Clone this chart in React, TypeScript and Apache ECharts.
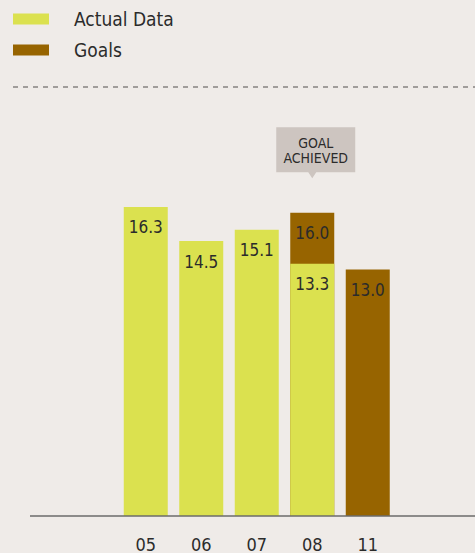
import React, { useEffect, useRef } from "react";
import * as echarts from "echarts";

const categories = ["05", "06", "07", "08", "11"];
const actualData: (number | null)[] = [16.3, 14.5, 15.1, 13.3, null];
const goalData: (number | null)[] = [null, null, null, 16.0, 13.0];
const calloutLines = ["GOAL", "ACHIEVED"];
const calloutCategory = "08";
const calloutValue = 16.0;

const FONT = "'Liberation Sans Narrow', 'DejaVu Sans Condensed', 'Roboto', sans-serif";
const BG = "#efebe8";
const YELLOW = "#dbe14f";
const BROWN = "#976400";
const TEXT = "#2b2b2b";

export default function App() {
  const ref = useRef<HTMLDivElement>(null);
  useEffect(() => {
    if (!ref.current) return;
    const chart = echarts.init(ref.current, null, { renderer: "svg" });
    const labelStyle = {
      show: true,
      position: "insideTop",
      distance: 12,
      color: TEXT,
      fontFamily: FONT,
      fontSize: 17,
      formatter: (p: any) => Number(p.value).toFixed(1),
    };
    chart.setOption({
      animation: false,
      backgroundColor: BG,
      textStyle: { fontFamily: FONT },
      legend: {
        orient: "vertical",
        left: 13,
        top: 9,
        padding: 0,
        itemGap: 11,
        itemWidth: 36,
        itemHeight: 11,
        icon: "rect",
        selectedMode: false,
        data: ["Actual Data", "Goals"],
        textStyle: {
          fontFamily: FONT,
          fontSize: 19,
          color: TEXT,
          padding: [0, 0, 0, 20],
          lineHeight: 20,
        },
      },
      graphic: [
        {
          type: "line",
          shape: { x1: 13, y1: 87, x2: 475, y2: 87 },
          style: { stroke: "#a09c9a", lineWidth: 2, lineDash: [5, 5] },
        },
        {
          type: "line",
          shape: { x1: 30, y1: 516, x2: 475, y2: 516 },
          style: { stroke: "#6b6b6b", lineWidth: 1.5 },
          z: 10,
        },
      ],
      grid: { left: 118, right: 79.5, top: 136.8, bottom: 37 },
      xAxis: {
        type: "category",
        data: categories,
        axisLine: { show: false },
        axisTick: { show: false },
        axisLabel: {
          color: TEXT,
          fontFamily: FONT,
          fontSize: 18,
          margin: 19,
        },
      },
      yAxis: {
        type: "value",
        min: 0,
        max: 20,
        show: false,
        splitLine: { show: false },
      },
      series: [
        {
          name: "Goals",
          type: "bar",
          data: goalData,
          barWidth: 44,
          barGap: "-100%",
          itemStyle: { color: BROWN },
          label: labelStyle,
          markPoint: {
            symbol: "path://M0 0 H79 V45 H40 L36 51 L32 45 H0 Z",
            symbolSize: [79, 51],
            symbolOffset: [3.5, -60],
            itemStyle: { color: "#cdc5c0" },
            label: {
              show: true,
              position: "inside",
              offset: [0, -2],
              color: TEXT,
              fontFamily: FONT,
              fontSize: 14,
              lineHeight: 15,
              formatter: calloutLines.join("\n"),
            },
            data: [{ coord: [calloutCategory, calloutValue] }],
          },
        },
        {
          name: "Actual Data",
          type: "bar",
          data: actualData,
          barWidth: 44,
          barGap: "-100%",
          itemStyle: { color: YELLOW },
          label: labelStyle,
          z: 3,
        },
      ],
    });
    return () => chart.dispose();
  }, []);
  return <div ref={ref} style={{ width: 475, height: 553, position: "absolute", left: 0, top: 0 }} />;
}
